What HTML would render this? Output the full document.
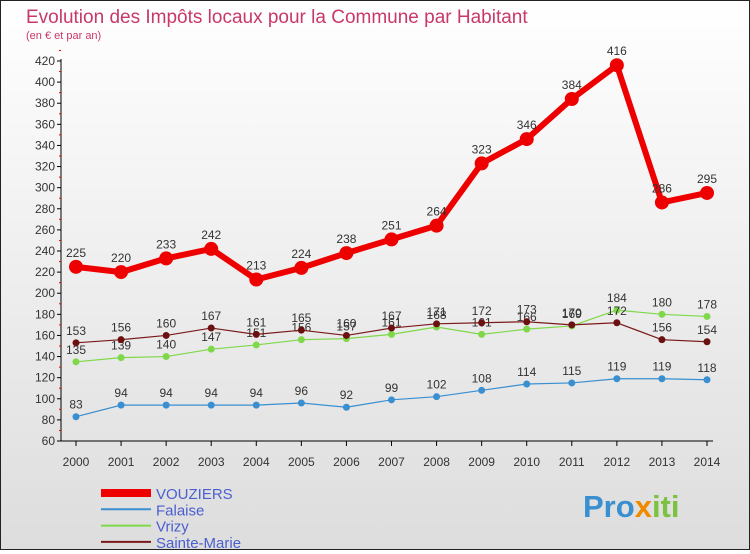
<!DOCTYPE html>
<html><head><meta charset="utf-8"><style>
body{margin:0;width:750px;height:550px;overflow:hidden;font-family:"Liberation Sans",sans-serif}
#c{position:absolute;left:0;top:0;width:748px;height:548px;border:1px solid #222;background:linear-gradient(#fff,#ddd)}
</style></head><body>
<div id="c">
<svg id="s" width="748" height="548" xmlns="http://www.w3.org/2000/svg">
<text x="25" y="22" font-size="19" fill="#c8386a">Evolution des Impôts locaux pour la Commune par Habitant</text>
<text x="25" y="38" font-size="11" fill="#c8386a">(en € et par an)</text>
<g id="ax"></g><g id="ser"></g>
<text x="582" y="516" font-size="31" font-weight="bold" fill="#3a8fd0">Pro<tspan fill="#f08a00">x</tspan><tspan fill="#7cc242">iti</tspan></text>
</svg></div>
<script>
const years=[2000,2001,2002,2003,2004,2005,2006,2007,2008,2009,2010,2011,2012,2013,2014];
const yTicks=[60,80,100,120,140,160,180,200,220,240,260,280,300,320,340,360,380,400,420];
const vouziers=[225,220,233,242,213,224,238,251,264,323,346,384,416,286,295];
const falaise=[83,94,94,94,94,96,92,99,102,108,114,115,119,119,118];
const vrizy=[135,139,140,147,151,156,157,161,168,161,166,169,184,180,178];
const sainteMarie=[153,156,160,167,161,165,160,167,171,172,173,170,172,156,154];
const NS='http://www.w3.org/2000/svg';
const X=i=>75+i*(631/14), Y=v=>440-(v-60)*380/360;
function mk(t,a,p){const e=document.createElementNS(NS,t);for(const k in a)e.setAttribute(k,a[k]);p.appendChild(e);return e;}
const ax=document.getElementById('ax'), ser=document.getElementById('ser');
let l=mk('line',{x1:60,y1:58,x2:60,y2:440,stroke:'#000'},ax);

l=mk('line',{x1:60,y1:440,x2:712,y2:440,stroke:'#000'},ax);

yTicks.forEach(v=>{mk('line',{x1:56,y1:Y(v),x2:60,y2:Y(v),stroke:'#000'},ax);
 mk('line',{x1:58,y1:Y(v+10),x2:60,y2:Y(v+10),stroke:'#e00'},ax);
 const t=mk('text',{x:54,y:Y(v)+4,'font-size':12,'text-anchor':'end',fill:'#333'},ax);t.textContent=v;
 });
years.forEach((y,i)=>{mk('line',{x1:X(i),y1:440,x2:X(i),y2:445,stroke:'#000'},ax);
 const t=mk('text',{x:X(i),y:465,'font-size':12,'text-anchor':'middle',fill:'#333'},ax);t.textContent=y;
 });
function series(d,col,dot,w,r,name,lab){
 const g=mk('g',{},ser);
 mk('polyline',{points:d.map((v,i)=>X(i)+','+Y(v)).join(' '),fill:'none',stroke:col,'stroke-width':w,'stroke-linejoin':'round'},g);
 d.forEach((v,i)=>{const c=mk('circle',{cx:X(i),cy:Y(v),r:r,fill:dot},g);
  
  const t=mk('text',{x:X(i),y:Y(v)-(lab?10:8),'font-size':12,'text-anchor':'middle',fill:'#333'},g);t.textContent=v;});
}
series(falaise,'#3a8fd0','#3a8fd0',1.2,3.5,'falaise');
series(vrizy,'#7fd84a','#7fd84a',1.2,3.5,'vrizy');
series(sainteMarie,'#7a1a1a','#6a1010',1.2,3.5,'sainte-marie');
series(vouziers,'#ee0000','#ee0000',6,7,'vouziers',true);
const leg=[['VOUZIERS','#ee0000',8],['Falaise','#3a8fd0',2],['Vrizy','#7fd84a',2],['Sainte-Marie','#7a1a1a',2]];
leg.forEach((e,i)=>{const g=mk('g',{},ser);
 const y=492+i*16.3;mk('line',{x1:100,y1:y,x2:150,y2:y,stroke:e[1],'stroke-width':e[2]},g);
 const t=mk('text',{x:155,y:y+6,'font-size':15,fill:'#4a5fd0'},g);t.textContent=e[0];});
</script></body></html>
